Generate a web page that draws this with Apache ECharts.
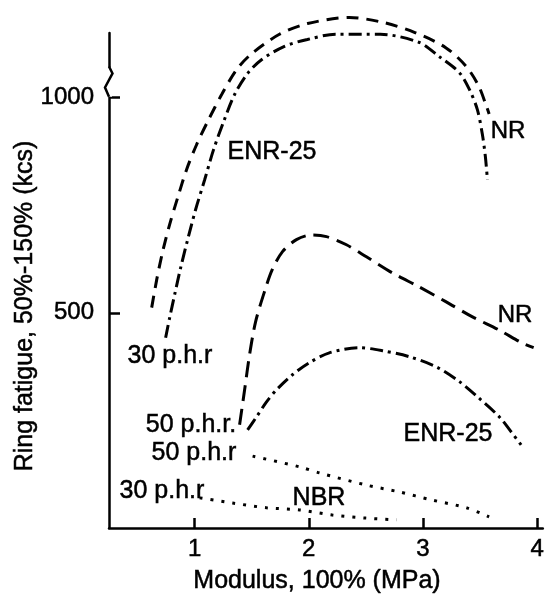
<!DOCTYPE html>
<html>
<head>
<meta charset="utf-8">
<script src="https://cdn.jsdelivr.net/npm/echarts@6/dist/echarts.min.js"></script>
<style>
  html, body { margin: 0; padding: 0; background: #fff; }
  #chart { width: 547px; height: 595px; }
</style>
</head>
<body>
<div id="chart"></div>
<script>
// ---- data (x: Modulus 100% MPa, y: ring fatigue kcs) ----
const xTicks = [1, 2, 3, 4];
const yTicks = [500, 1000];

const nr30 = [[0.624,512],[0.668,577],[0.72,642],[0.781,705],[0.851,767],[0.93,833],[1.018,891],
  [1.123,949],[1.237,1007],[1.368,1065],[1.5,1102],[1.743,1147],[1.99,1172],[2.356,1186],
  [2.66,1174],[2.93,1151],[3.2,1116],[3.38,1072],[3.49,1026],[3.56,977],[3.58,962]];

const enr30 = [[0.746,442],[0.781,488],[0.825,542],[0.878,605],[0.939,670],[1.009,740],[1.088,809],
  [1.166,879],[1.254,944],[1.35,1007],[1.464,1056],[1.586,1088],[1.787,1119],[1.988,1135],
  [2.234,1147],[2.627,1147],[2.969,1128],[3.144,1095],[3.319,1058],[3.407,1019],[3.477,972],
  [3.521,914],[3.547,863],[3.565,809]];

const nr50 = [[1.394,240],[1.438,321],[1.481,402],[1.534,479],[1.612,549],[1.68,600],[1.77,642],
  [1.892,670],[2.03,681],[2.155,677],[2.33,658],[2.505,630],[2.73,593],[2.968,560],[3.2,526],
  [3.43,491],[3.667,460],[3.868,430],[3.97,419]];

const enr50 = [[1.464,228],[1.542,258],[1.63,293],[1.717,321],[1.857,356],[2.006,384],[2.18,407],
  [2.44,419],[2.645,412],[2.88,398],[3.12,374],[3.32,340],[3.49,302],[3.67,258],[3.78,221],[3.86,193]];

const nbr50 = [[1.508,167],[1.92,142],[2.094,128],[2.5,100],[2.79,84],[3.08,65],[3.38,47],[3.58,26]];

const nbr30 = [[1.044,70],[1.333,58],[1.63,47],[1.92,42],[2.207,30],[2.5,23],[2.77,19]];

// ---- styles ----
const FONT = '"Liberation Sans", Arial, Helvetica, sans-serif';
const dashed = [12, 8];
const dashed2 = [16, 8];
const dashDot = [13, 5, 3, 5];
const dotted = [3, 8];

function lineSeries(name, data, dash, width) {
  return {
    name: name, type: 'line', data: data, symbol: 'none', smooth: 0.3,
    clip: false, silent: true,
    lineStyle: { color: '#000', width: width, type: dash, cap: 'butt' }
  };
}

function txt(text, x, y, size) {
  return { type: 'text', x: x, y: y, z: 100,
    style: { text: text, fontSize: size || 25, fontFamily: FONT, fill: '#000',
             stroke: '#000', lineWidth: 0.5,
             align: 'center', verticalAlign: 'middle' } };
}

const chart = echarts.init(document.getElementById('chart'), null, { renderer: 'canvas' });

const labelStyle = { fontSize: 24, fontFamily: FONT, color: '#000',
  textBorderColor: '#000', textBorderWidth: 0.5, formatter: v => String(v) };

const option = {
  animation: false,
  backgroundColor: '#fff',
  grid: { left: 109, right: 3, top: 33, bottom: 67 },
  xAxis: {
    type: 'value', min: 0.25, max: 4.05,
    axisLine: { show: true, lineStyle: { color: '#000', width: 2.5 } },
    axisTick: { show: true, inside: true, length: 10, customValues: xTicks,
                lineStyle: { color: '#000', width: 2.5 } },
    axisLabel: Object.assign({ customValues: xTicks, margin: 9 }, labelStyle),
    splitLine: { show: false }
  },
  yAxis: {
    type: 'value', min: 0, max: 1150,
    axisLine: { show: true, lineStyle: { color: '#000', width: 2.5 } },
    axisTick: { show: true, inside: true, length: 11, customValues: yTicks,
                lineStyle: { color: '#000', width: 2.5 } },
    axisLabel: Object.assign({ customValues: yTicks, margin: 15 }, labelStyle),
    splitLine: { show: false }
  },
  series: [
    lineSeries('NR 30 p.h.r', nr30, dashed, 3),
    lineSeries('ENR-25 30 p.h.r', enr30, dashDot, 3),
    lineSeries('NR 50 p.h.r', nr50, dashed2, 3),
    lineSeries('ENR-25 50 p.h.r', enr50, dashDot, 3),
    lineSeries('NBR 50 p.h.r', nbr50, dotted, 3),
    lineSeries('NBR 30 p.h.r', nbr30, dotted, 3)
  ]
};
chart.setOption(option);

// axis break symbol on the y axis, placed through the axis scale
const pTop = chart.convertToPixel({ gridIndex: 0 }, [0.25, 1070]);
const pBot = chart.convertToPixel({ gridIndex: 0 }, [0.25, 1002]);
const ax = pTop[0];
const graphics = [
  { type: 'rect', z: 99, shape: { x: ax - 3, y: pTop[1], width: 6, height: pBot[1] - pTop[1] },
    style: { fill: '#fff' } },
  { type: 'polyline', z: 100,
    shape: { points: [[ax, pTop[1] - 1], [ax + 3.5, pTop[1] + 6], [ax - 4, pTop[1] + 20], [ax, pBot[1]]] },
    style: { stroke: '#000', lineWidth: 2.5, fill: null } },
  txt('ENR-25', 272, 152),
  txt('NR', 508, 131, 24),
  txt('30 p.h.r', 170, 356),
  txt('50 p.h.r.', 191, 425),
  txt('50 p.h.r', 194, 453),
  txt('30 p.h.r', 162, 491),
  txt('NBR', 319, 498),
  txt('ENR-25', 448, 434),
  txt('NR', 515, 315, 24),
  txt('Modulus, 100% (MPa)', 317, 581, 25),
  { type: 'text', x: 25, y: 306, rotation: Math.PI / 2, z: 100,
    style: { text: 'Ring fatigue, 50%-150% (kcs)', fontSize: 25, fontFamily: FONT, fill: '#000',
             stroke: '#000', lineWidth: 0.5,
             align: 'center', verticalAlign: 'middle' } }
];
chart.setOption({ graphic: graphics });
</script>
</body>
</html>
